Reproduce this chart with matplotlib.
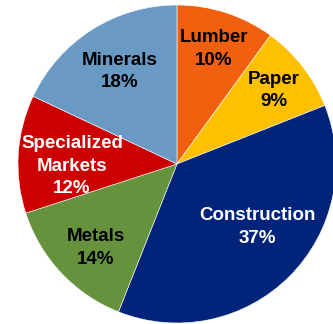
import matplotlib
matplotlib.use("Agg")
import matplotlib.pyplot as plt

plt.rcParams["font.family"] = ["Liberation Sans", "DejaVu Sans"]

sectors = ["Lumber", "Paper", "Construction", "Metals", "Specialized\nMarkets", "Minerals"]
shares = [10, 9, 37, 14, 12, 18]
colors = ["#F0600F", "#FFC000", "#002479", "#66913D", "#CC0000", "#6A9AC4"]
text_colors = ["black", "black", "white", "black", "white", "black"]

# label centres inside each wedge (data units, pie radius = 1)
label_pos = [(0.233, 0.723), (0.61, 0.462), (0.503, -0.396),
             (-0.509, -0.528), (-0.66, -0.013), (-0.358, 0.582)]

fig = plt.figure(figsize=(3.33, 3.24), dpi=100)
ax = fig.add_axes([18 / 333, 1 / 324, 318 / 333, 318 / 324])

ax.pie(shares, colors=colors, startangle=90, counterclock=False, radius=1,
       wedgeprops=dict(edgecolor="white", linewidth=0.4))

for name, val, (x, y), tc in zip(sectors, shares, label_pos, text_colors):
    ax.text(x, y, f"{name}\n{val}%", ha="center", va="center", color=tc,
            fontsize=13.5, fontweight="bold", linespacing=1.4)

ax.set_xlim(-1, 1)
ax.set_ylim(-1, 1)
ax.set_aspect("auto")
ax.axis("off")

fig.savefig("out.png", dpi=100)
